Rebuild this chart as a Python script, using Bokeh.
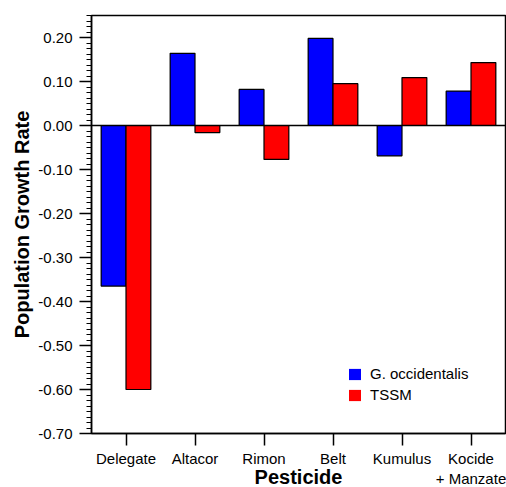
from bokeh.plotting import figure
from bokeh.models import FactorRange, FixedTicker, Span, Legend, LegendItem, ColumnDataSource, CustomJSTickFormatter
from bokeh.transform import dodge
from bokeh.embed import file_html
from bokeh.resources import INLINE

pesticides = ["Delegate", "Altacor", "Rimon", "Belt", "Kumulus", "Kocide\n+ Manzate"]
g_occidentalis = [-0.365, 0.164, 0.082, 0.198, -0.069, 0.078]
tssm = [-0.600, -0.016, -0.077, 0.095, 0.109, 0.143]
y_ticks = [-0.70, -0.60, -0.50, -0.40, -0.30, -0.20, -0.10, 0.00, 0.10, 0.20]
y_minor = [round(-0.70 + i * 0.0125, 4) for i in range(77)]

FONT = "Liberation Sans"

src = ColumnDataSource(dict(cat=pesticides, g=g_occidentalis, t=tssm))

p = figure(width=506, height=487, x_range=FactorRange(factors=pesticides, range_padding=0),
           y_range=(-0.70, 0.25), output_backend="svg", toolbar_location=None,
           min_border_left=91, min_border_right=1, min_border_top=15, min_border_bottom=54)
p.frame_width = 414
p.frame_height = 418

p.x_range.range_padding = 0
p.grid.visible = False
p.outline_line_color = "black"
p.outline_line_width = 1.5
p.background_fill_color = "white"
p.border_fill_color = "white"

# unoutlined fills (used as legend swatches), covered by outlined bars
lg_b = p.vbar(x=dodge("cat", -0.18, range=p.x_range), top="g", bottom=0, width=0.36, source=src,
              fill_color="#0000FF", line_color=None)
lg_r = p.vbar(x=dodge("cat", 0.18, range=p.x_range), top="t", bottom=0, width=0.36, source=src,
              fill_color="#FF0000", line_color=None)
p.vbar(x=dodge("cat", -0.18, range=p.x_range), top="g", bottom=0, width=0.36, source=src,
       fill_color="#0000FF", line_color="black", line_width=1.2)
p.vbar(x=dodge("cat", 0.18, range=p.x_range), top="t", bottom=0, width=0.36, source=src,
       fill_color="#FF0000", line_color="black", line_width=1.2)

p.add_layout(Span(location=0, dimension="width", line_color="black", line_width=1.5))

legend = Legend(items=[LegendItem(label="G. occidentalis", renderers=[lg_b]),
                       LegendItem(label="TSSM", renderers=[lg_r])],
                location=(256, 30), border_line_alpha=0, background_fill_alpha=0,
                padding=0, margin=0, spacing=4, glyph_width=15, glyph_height=14,
                label_height=14, label_standoff=8,
                label_text_font=FONT, label_text_font_size="15px", label_text_color="black")
p.add_layout(legend, "center")

# y axis
ya = p.yaxis[0]
ya.ticker = FixedTicker(ticks=y_ticks, minor_ticks=y_minor)
ya.formatter = CustomJSTickFormatter(code="return tick.toFixed(2);")
ya.major_tick_out = 12
ya.major_tick_in = 0
ya.minor_tick_out = 5
ya.minor_tick_in = 0
ya.axis_line_width = 1.5
ya.major_tick_line_width = 1.5
ya.minor_tick_line_width = 1.2
ya.axis_line_color = "black"
ya.major_tick_line_color = "black"
ya.minor_tick_line_color = "black"
ya.major_label_text_font = FONT
ya.major_label_text_font_size = "15px"
ya.major_label_text_color = "black"
ya.major_label_standoff = 7
ya.axis_label = "Population Growth Rate"
ya.axis_label_text_font = FONT
ya.axis_label_text_font_size = "20px"
ya.axis_label_text_font_style = "bold"
ya.axis_label_text_color = "black"
ya.axis_label_standoff = 2

xa = p.xaxis[0]
xa.major_tick_out = 12
xa.major_tick_in = 0
xa.axis_line_width = 1.5
xa.major_tick_line_width = 1.5
xa.axis_line_color = "black"
xa.major_tick_line_color = "black"
xa.major_label_text_font = FONT
xa.major_label_text_font_size = "15px"
xa.major_label_text_color = "black"
xa.major_label_standoff = 4
xa.axis_label = "Pesticide"
xa.axis_label_text_font = FONT
xa.axis_label_text_font_size = "20px"
xa.axis_label_text_font_style = "bold"
xa.axis_label_text_color = "black"
xa.axis_label_standoff = -24

open("out.html", "w").write(file_html(p, INLINE))
